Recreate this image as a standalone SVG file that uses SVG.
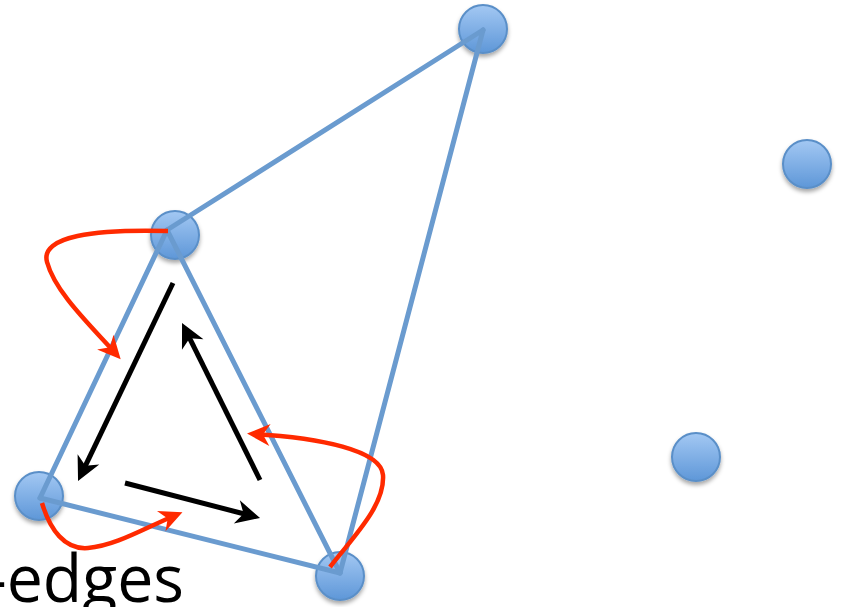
<svg xmlns="http://www.w3.org/2000/svg" width="842" height="607" viewBox="0 0 842 607">
<style>
.node{fill:url(#ng);stroke:#5a8fc8;stroke-width:2;filter:url(#sh)}
.edge{stroke:#6a9bcf;stroke-width:5;fill:none;stroke-linecap:round}
.blk{stroke:#000;stroke-width:5;fill:none;marker-end:url(#hb)}
.red{stroke:#ff2a00;stroke-width:4.5;fill:none;marker-end:url(#hr)}
.lbl{font-family:"Open Sans","Liberation Sans",Arial,sans-serif;font-size:66px;fill:#000}
</style>
<defs>
<linearGradient id="ng" x1="0" y1="0" x2="0" y2="1">
<stop offset="0" stop-color="#a3c8f3"/>
<stop offset="1" stop-color="#5e97d8"/>
</linearGradient>
<filter id="sh" x="-30%" y="-30%" width="160%" height="170%">
<feDropShadow dx="0" dy="3" stdDeviation="2" flood-color="#000" flood-opacity="0.35"/>
</filter>
<marker id="hb" markerUnits="userSpaceOnUse" markerWidth="44" markerHeight="44" viewBox="-22 -22 44 44" refX="0" refY="0" orient="auto">
<path d="M8,0 L-16,-12 L-9,0 L-16,12 Z" fill="#000"/>
</marker>
<marker id="hr" markerUnits="userSpaceOnUse" markerWidth="44" markerHeight="44" viewBox="-22 -22 44 44" refX="0" refY="0" orient="auto">
<path d="M7,0 L-16,-11 L-9,0 L-16,11 Z" fill="#ff2a00"/>
</marker>
</defs>
<rect width="842" height="607" fill="#fff"/>
<g id="nodes">
<g id="node-a"><circle class="node" cx="483" cy="29" r="24"/></g>
<g id="node-b"><circle class="node" cx="807" cy="164" r="24"/></g>
<g id="node-c"><circle class="node" cx="696" cy="457" r="24"/></g>
<g id="node-d"><circle class="node" cx="175" cy="235" r="24"/></g>
<g id="node-e"><circle class="node" cx="39" cy="496" r="24"/></g>
<g id="node-f"><circle class="node" cx="340" cy="576" r="24"/></g>
</g>
<g id="connectors">
<line class="edge" x1="167" y1="230" x2="483" y2="30"/>
<line class="edge" x1="483" y1="30" x2="340" y2="573"/>
<line class="edge" x1="167" y1="230" x2="40" y2="498"/>
<line class="edge" x1="167" y1="230" x2="340" y2="573"/>
<line class="edge" x1="40" y1="498" x2="340" y2="573"/>
<line class="blk" x1="173" y1="283" x2="81.5" y2="473.8"/>
<line class="blk" x1="260" y1="480" x2="185.6" y2="330.2"/>
<line class="blk" x1="125" y1="483" x2="252.3" y2="516"/>
<path class="red" d="M168,231 C95,229 40,236 47,262 C55,292 90,325 116,354"/>
<path class="red" d="M42,503 C50,530 65,550 88,548 C115,546 145,528 176,515"/>
<path class="red" d="M330,567 C355,535 385,505 383,475 C381,450 320,438 254,434"/>
</g>
<text class="lbl" x="-14" y="602" textLength="198" lengthAdjust="spacingAndGlyphs">-edges</text>
</svg>
